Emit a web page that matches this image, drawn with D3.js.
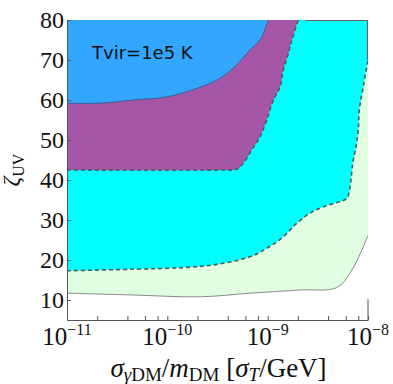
<!DOCTYPE html>
<html>
<head>
<meta charset="utf-8">
<script src="https://cdn.jsdelivr.net/npm/d3@7"></script>
<style>
  html, body { margin: 0; padding: 0; background: #fff; }
  svg { display: block; }
  .axis path, .axis line { stroke: #555; stroke-width: 1; }
</style>
</head>
<body>
<div class="chart-zeta"><svg></svg></div>
<script>
'use strict';

// bordes de cada region (x en sigma/m, y en zeta_UV)
var blueEdgeX = [1e-11, 2.14e-11, 4.55e-11, 1.0e-10, 2.12e-10, 3.35e-10, 4.91e-10, 6.67e-10, 8.4e-10, 1.01e-9];
var blueEdgeY = [59.2, 59.2, 60.0, 60.8, 63.2, 65.4, 68.8, 72.5, 75.0, 80.0];

var purpleEdgeX = [1e-11, 3.35e-10, 4.91e-10, 5.71e-10, 6.93e-10, 8.39e-10, 9.77e-10, 1.14e-9, 1.33e-9, 1.43e-9, 1.61e-9, 1.74e-9, 2.02e-9];
var purpleEdgeY = [42.5, 42.5, 42.7, 44.2, 47.5, 50.8, 55.0, 60.0, 63.3, 67.5, 71.7, 75.0, 80.0];

var cyanEdgeX = [1e-11, 4.58e-11, 1.44e-10, 3.10e-10, 6.67e-10, 9.77e-10, 1.43e-9, 1.95e-9, 2.64e-9, 3.59e-9, 5.26e-9, 6.14e-9, 6.62e-9, 7.05e-9, 7.59e-9, 8.0e-9, 8.19e-9, 8.97e-9, 1e-8];
var cyanEdgeY = [17.3, 17.7, 18.1, 18.9, 20.8, 22.9, 25.8, 29.2, 31.7, 33.3, 34.6, 35.4, 38.3, 44.2, 48.3, 52.5, 57.5, 63.3, 70.0];

var greenEdgeX = [1e-11, 4.55e-11, 2.12e-10, 6.67e-10, 2.10e-9, 4.88e-9, 6.62e-9, 8.97e-9, 1e-8];
var greenEdgeY = [11.7, 11.25, 10.8, 11.7, 12.5, 13.1, 16.7, 23.3, 26.2];

var yTicks = [10, 20, 30, 40, 50, 60, 70, 80];
var xMajorExp = [-11, -10, -9, -8];
var xMinorMult = [2, 4, 6, 8];

var SERIF = '"Liberation Serif", "Times New Roman", serif';

function zetaChart() {
    var margin = { top: 20, right: 25, bottom: 64, left: 67 };
    var w = 393;
    var h = 384;
    var width = w - margin.left - margin.right;
    var height = h - margin.top - margin.bottom;
    var svg = d3.select('.chart-zeta svg').attr('width', w).attr('height', h);
    var scales = {};

    function setupScales() {
        scales.x = d3.scaleLog().domain([1e-11, 1e-8]).range([0, width]);
        scales.y = d3.scaleLinear().domain([5, 80]).range([height, 0]);
    }

    function toPoints(xs, ys) {
        return xs.map(function (d, i) { return { x: d, y: ys[i] }; });
    }

    function drawRegions(g) {
        g.append('clipPath').attr('id', 'plot-clip')
            .append('rect').attr('width', width).attr('height', height);

        var regions = g.append('g').attr('clip-path', 'url(#plot-clip)');

        var area = d3.area()
            .x(function (d) { return scales.x(d.x); })
            .y0(scales.y(80))
            .y1(function (d) { return scales.y(d.y); })
            .curve(d3.curveCatmullRom.alpha(0.5));

        var line = d3.line()
            .x(function (d) { return scales.x(d.x); })
            .y(function (d) { return scales.y(d.y); })
            .curve(d3.curveCatmullRom.alpha(0.5));

        var layers = [
            { pts: toPoints(greenEdgeX, greenEdgeY), fill: '#e0ffe0', stroke: '#8a8a8a', dash: null, sw: 1 },
            { pts: toPoints(cyanEdgeX, cyanEdgeY), fill: '#00ffff', stroke: '#4c5c5c', dash: '4,3', sw: 1.6 },
            { pts: toPoints(purpleEdgeX, purpleEdgeY), fill: '#a656a6', stroke: '#4c5c5c', dash: '4,3', sw: 1.6 },
            { pts: toPoints(blueEdgeX, blueEdgeY), fill: '#33a6ff', stroke: '#3d5d9a', dash: null, sw: 1 }
        ];

        layers.forEach(function (l) {
            regions.append('path').attr('class', 'area').attr('d', area(l.pts)).attr('fill', l.fill);
        });

        layers.forEach(function (l) {
            regions.append('path').attr('class', 'edge').attr('d', line(l.pts))
                .attr('fill', 'none').attr('stroke', l.stroke)
                .attr('stroke-width', l.sw)
                .attr('stroke-dasharray', l.dash);
        });

        // borde solido de la region cian arriba a la derecha
        regions.append('path')
            .attr('d', 'M' + scales.x(2.4e-9) + ',' + (scales.y(80) + 0.5) +
                'L' + (scales.x(1e-8) - 0.5) + ',' + (scales.y(80) + 0.5) +
                'L' + (scales.x(1e-8) - 0.5) + ',' + scales.y(70))
            .attr('fill', 'none').attr('stroke', '#666').attr('stroke-width', 1.2);
    }

    function drawAxes(g) {
        var xTicks = [];
        xMajorExp.forEach(function (e) {
            xTicks.push(Math.pow(10, e));
            if (e < -8) {
                xMinorMult.forEach(function (m) { xTicks.push(m * Math.pow(10, e)); });
            }
        });

        var axisX = d3.axisBottom(scales.x).tickValues(xTicks).tickFormat('')
            .tickSizeInner(-4).tickSizeOuter(0);
        g.append('g').attr('class', 'axis axis-x')
            .attr('transform', 'translate(0,' + height + ')').call(axisX);

        var axisY = d3.axisLeft(scales.y).tickValues(yTicks).tickFormat(d3.format('d'))
            .tickSizeInner(-4).tickSizeOuter(0).tickPadding(3);
        g.append('g').attr('class', 'axis axis-y').call(axisY)
            .selectAll('text')
            .style('font-family', SERIF).style('font-size', '24px')
            .attr('fill', '#111').attr('dy', '0.3em');

        // trozo vertical en la esquina inferior derecha
        g.append('line')
            .attr('x1', scales.x(1e-8)).attr('x2', scales.x(1e-8))
            .attr('y1', scales.y(5)).attr('y2', scales.y(10.2))
            .attr('stroke', '#555');

        var labels = g.append('g').attr('class', 'x-labels');
        xMajorExp.forEach(function (e) {
            var t = labels.append('text')
                .attr('x', scales.x(Math.pow(10, e))).attr('y', height + 25)
                .attr('text-anchor', 'middle').attr('fill', '#111')
                .style('font-family', SERIF).style('font-size', '25px');
            t.append('tspan').text('10');
            t.append('tspan').attr('dy', -10).style('font-size', '16px').text('\u2212' + Math.abs(e));
        });

        // titulo eje x
        var xt = g.append('text')
            .attr('x', width / 2 + 1).attr('y', height + 57)
            .attr('text-anchor', 'middle').attr('fill', '#111')
            .style('font-family', SERIF).style('font-size', '27px');
        xt.append('tspan').style('font-style', 'italic').text('\u03c3');
        xt.append('tspan').attr('dy', 4).style('font-size', '19px').style('font-style', 'italic').text('\u03b3');
        xt.append('tspan').style('font-size', '19px').text('DM');
        xt.append('tspan').attr('dy', -4).text('/');
        xt.append('tspan').style('font-style', 'italic').text('m');
        xt.append('tspan').attr('dy', 4).style('font-size', '19px').text('DM');
        xt.append('tspan').attr('dy', -4).text(' [');
        xt.append('tspan').style('font-style', 'italic').text('\u03c3');
        xt.append('tspan').attr('dy', 4).style('font-size', '19px').style('font-style', 'italic').text('T');
        xt.append('tspan').attr('dy', -4).text('/GeV]');

        // titulo eje y
        var yt = g.append('text')
            .attr('transform', 'translate(' + (-48) + ',' + (height / 2) + ') rotate(-90)')
            .attr('text-anchor', 'middle').attr('fill', '#111')
            .style('font-family', SERIF).style('font-size', '24px');
        yt.append('tspan').style('font-style', 'italic').text('\u03b6');
        yt.append('tspan').attr('dy', 5).style('font-size', '16px').text('UV');

        g.append('text')
            .attr('x', 25).attr('y', 39)
            .style('font-family', '"DejaVu Sans", sans-serif').style('font-size', '18px')
            .attr('fill', '#111')
            .text('Tvir=1e5 K');
    }

    setupScales();
    var g = svg.append('g').attr('transform', 'translate(' + margin.left + ',' + margin.top + ')');
    drawRegions(g);
    drawAxes(g);
}

zetaChart();
</script>
</body>
</html>
